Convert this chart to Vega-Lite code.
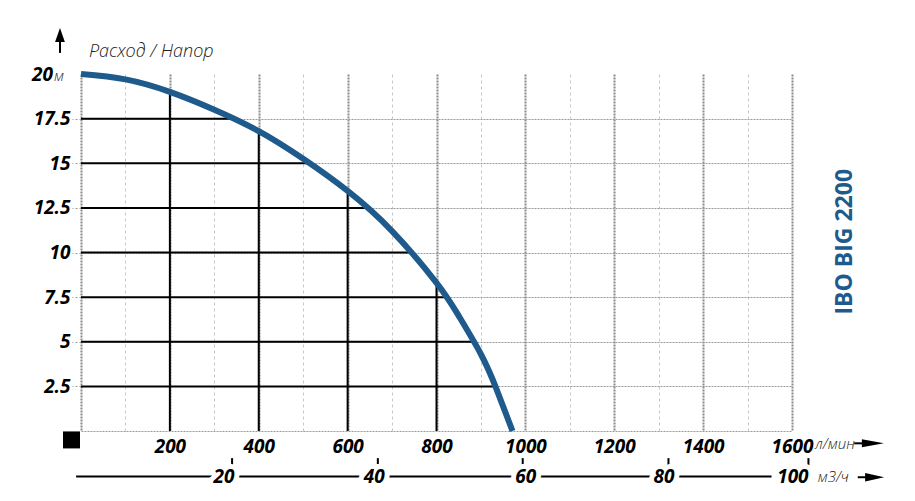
{
  "$schema": "https://vega.github.io/schema/vega-lite/v6.json",
  "width": 711,
  "height": 357,
  "autosize": {"type": "none"},
  "padding": {"left": 81, "top": 74, "right": 123, "bottom": 70},
  "background": "white",
  "config": {"view": {"stroke": null}, "font": "Open Sans"},
  "datasets": {
    "curve": [
      {"flow": 0, "head": 20},
      {"flow": 100, "head": 19.7},
      {"flow": 200, "head": 19.0},
      {"flow": 300, "head": 18.0},
      {"flow": 400, "head": 16.8},
      {"flow": 500, "head": 15.25},
      {"flow": 600, "head": 13.45},
      {"flow": 700, "head": 11.2},
      {"flow": 800, "head": 8.3},
      {"flow": 850, "head": 6.45},
      {"flow": 900, "head": 4.3},
      {"flow": 935, "head": 2.35},
      {"flow": 971, "head": 0}
    ],
    "hlines": [
      {"head": 17.5, "flow": 342},
      {"head": 15, "flow": 514},
      {"head": 12.5, "flow": 640},
      {"head": 10, "flow": 743},
      {"head": 7.5, "flow": 820},
      {"head": 5, "flow": 883},
      {"head": 2.5, "flow": 932}
    ],
    "vlines": [
      {"flow": 200, "head": 19.0},
      {"flow": 400, "head": 16.8},
      {"flow": 600, "head": 13.5},
      {"flow": 800, "head": 8.3}
    ],
    "m3h": [
      {"m3h": 20, "tickAt": 340, "labelAt": 322},
      {"m3h": 40, "tickAt": 668, "labelAt": 660},
      {"m3h": 60, "tickAt": 994, "labelAt": 1001},
      {"m3h": 80, "tickAt": 1322, "labelAt": 1312},
      {"m3h": 100, "tickAt": 1637, "labelAt": 1602}
    ]
  },
  "layer": [
    {
      "data": {"name": "hlines"},
      "mark": {"type": "rule", "color": "#000", "strokeWidth": 2, "clip": false},
      "encoding": {
        "y": {"field": "head", "type": "quantitative", "scale": {"domain": [0, 20], "nice": false, "zero": false}},
        "x": {"field": "flow", "type": "quantitative", "scale": {"domain": [0, 1600], "nice": false, "zero": false}},
        "x2": {"datum": 0}
      }
    },
    {
      "data": {"name": "vlines"},
      "mark": {"type": "rule", "color": "#000", "strokeWidth": 2, "clip": false},
      "encoding": {
        "x": {"field": "flow", "type": "quantitative"},
        "y": {"field": "head", "type": "quantitative"},
        "y2": {"datum": 0}
      }
    },
    {
      "data": {"name": "curve"},
      "mark": {"type": "line", "color": "#1e5b8c", "strokeWidth": 6, "interpolate": "natural", "strokeCap": "butt", "clip": false},
      "encoding": {
        "x": {
          "field": "flow", "type": "quantitative",
          "scale": {"domain": [0, 1600], "nice": false, "zero": false},
          "axis": {
            "values": [0, 100, 200, 300, 400, 500, 600, 700, 800, 900, 1000, 1100, 1200, 1300, 1400, 1500, 1600],
            "format": "d",
            "title": null,
            "domain": false,
            "ticks": false,
            "labelExpr": "datum.value % 200 === 0 && datum.value > 0 ? datum.label : ''",
            "labelPadding": 6,
            "labelFont": "Open Sans",
            "labelFontSize": 19,
            "labelFontWeight": "bold",
            "labelFontStyle": "italic",
            "labelColor": "#000",
            "labelFlush": false,
            "labelOverlap": false,
            "grid": true,
            "gridColor": {"condition": {"test": "datum.value % 200 === 0", "value": "#8a8a8a"}, "value": "#c8c8c8"},
            "gridWidth": {"condition": {"test": "datum.value % 200 === 0", "value": 2}, "value": 1},
            "gridDash": {"condition": {"test": "datum.value % 200 === 0", "value": [2, 1]}, "value": [3, 3]}
          }
        },
        "y": {
          "field": "head", "type": "quantitative",
          "scale": {"domain": [0, 20], "nice": false, "zero": false},
          "axis": {
            "values": [0, 2.5, 5, 7.5, 10, 12.5, 15, 17.5],
            "format": ".1~f",
            "title": null,
            "domain": false,
            "ticks": true,
            "tickSize": 9,
            "tickColor": "#9a9a9a",
            "tickDash": [2, 2],
            "tickWidth": 1.2,
            "tickOpacity": {"condition": {"test": "datum.value === 0", "value": 0}, "value": 1},
            "labelExpr": "datum.value === 0 ? '' : datum.label",
            "labelPadding": 2,
            "labelFont": "Open Sans",
            "labelFontSize": 19,
            "labelFontWeight": "bold",
            "labelFontStyle": "italic",
            "labelColor": "#000",
            "labelFlush": false,
            "labelOverlap": false,
            "grid": true,
            "gridColor": "#9a9a9a",
            "gridDash": [2, 1],
            "gridWidth": 1.2
          }
        }
      }
    },
    {
      "data": {"values": [{}]},
      "mark": {"type": "rule", "color": "#000", "strokeWidth": 2, "clip": false},
      "encoding": {
        "x": {"datum": -11, "type": "quantitative"},
        "x2": {"datum": 1554},
        "y": {"datum": -2.55, "type": "quantitative"}
      }
    },
    {
      "data": {"name": "m3h"},
      "mark": {"type": "rule", "color": "#000", "strokeWidth": 2, "clip": false},
      "encoding": {
        "x": {"field": "tickAt", "type": "quantitative"},
        "y": {"datum": -1.52, "type": "quantitative"},
        "y2": {"datum": -1.94}
      }
    },
    {
      "data": {"name": "m3h"},
      "mark": {"type": "text", "font": "Open Sans", "fontSize": 19, "fontWeight": "bold", "fontStyle": "italic", "color": "white", "stroke": "white", "strokeWidth": 10, "align": "center", "baseline": "middle", "clip": false},
      "encoding": {
        "x": {"field": "labelAt", "type": "quantitative"},
        "y": {"datum": -2.55, "type": "quantitative"},
        "text": {"field": "m3h", "type": "quantitative"}
      }
    },
    {
      "data": {"name": "m3h"},
      "mark": {"type": "text", "font": "Open Sans", "fontSize": 19, "fontWeight": "bold", "fontStyle": "italic", "color": "#000", "align": "center", "baseline": "middle", "clip": false},
      "encoding": {
        "x": {"field": "labelAt", "type": "quantitative"},
        "y": {"datum": -2.55, "type": "quantitative"},
        "text": {"field": "m3h", "type": "quantitative"}
      }
    },
    {
      "data": {"values": [{}]},
      "mark": {"type": "text", "font": "Open Sans", "fontSize": 15, "fontStyle": "italic", "fontWeight": 300, "color": "#222", "align": "left", "baseline": "middle", "clip": false},
      "encoding": {
        "x": {"datum": 1658, "type": "quantitative"},
        "y": {"datum": -2.6, "type": "quantitative"},
        "text": {"value": "м3/ч"}
      }
    },
    {
      "data": {"values": [{}]},
      "mark": {"type": "text", "font": "Open Sans", "fontSize": 15, "fontStyle": "italic", "fontWeight": 300, "color": "#222", "align": "left", "baseline": "middle", "clip": false},
      "encoding": {
        "x": {"datum": 1652, "type": "quantitative"},
        "y": {"datum": -0.75, "type": "quantitative"},
        "text": {"value": "л/мин"}
      }
    },
    {
      "data": {"values": [{}]},
      "mark": {"type": "rule", "color": "#000", "strokeWidth": 2, "clip": false},
      "encoding": {
        "x": {"datum": 1740, "type": "quantitative"},
        "x2": {"datum": 1770},
        "y": {"datum": -0.69, "type": "quantitative"}
      }
    },
    {
      "data": {"values": [{}]},
      "mark": {"type": "point", "shape": "M-1,-0.36L1,0L-1,0.36Z", "size": 484, "filled": true, "color": "#000", "opacity": 1, "clip": false},
      "encoding": {
        "x": {"datum": 1782, "type": "quantitative"},
        "y": {"datum": -0.69, "type": "quantitative"}
      }
    },
    {
      "data": {"values": [{}]},
      "mark": {"type": "rule", "color": "#000", "strokeWidth": 2, "clip": false},
      "encoding": {
        "x": {"datum": 1748, "type": "quantitative"},
        "x2": {"datum": 1776},
        "y": {"datum": -2.59, "type": "quantitative"}
      }
    },
    {
      "data": {"values": [{}]},
      "mark": {"type": "point", "shape": "M-1,-0.44L1,0L-1,0.44Z", "size": 361, "filled": true, "color": "#000", "opacity": 1, "clip": false},
      "encoding": {
        "x": {"datum": 1786, "type": "quantitative"},
        "y": {"datum": -2.59, "type": "quantitative"}
      }
    },
    {
      "data": {"values": [{}]},
      "mark": {"type": "point", "shape": "square", "size": 289, "filled": true, "color": "#000", "opacity": 1, "clip": false},
      "encoding": {
        "x": {"datum": -21.4, "type": "quantitative"},
        "y": {"datum": -0.5, "type": "quantitative"}
      }
    },
    {
      "data": {"values": [{}]},
      "mark": {"type": "point", "shape": "M0,-1L0.7,1L-0.7,1Z", "size": 196, "filled": true, "color": "#000", "opacity": 1, "clip": false},
      "encoding": {
        "x": {"datum": -47.3, "type": "quantitative"},
        "y": {"datum": 22.18, "type": "quantitative"}
      }
    },
    {
      "data": {"values": [{}]},
      "mark": {"type": "rule", "color": "#000", "strokeWidth": 2, "clip": false},
      "encoding": {
        "x": {"datum": -47.3, "type": "quantitative"},
        "y": {"datum": 21.85, "type": "quantitative"},
        "y2": {"datum": 21.18}
      }
    },
    {
      "data": {"values": [{}]},
      "mark": {"type": "text", "font": "Open Sans", "fontSize": 18, "fontStyle": "italic", "fontWeight": 300, "color": "#222", "align": "left", "baseline": "alphabetic", "clip": false},
      "encoding": {
        "x": {"datum": 18, "type": "quantitative"},
        "y": {"datum": 20.95, "type": "quantitative"},
        "text": {"value": "Расход / Напор"}
      }
    },
    {
      "data": {"values": [{}]},
      "mark": {"type": "text", "font": "Open Sans", "fontSize": 19, "fontStyle": "italic", "fontWeight": "bold", "color": "#000", "align": "right", "baseline": "alphabetic", "clip": false},
      "encoding": {
        "x": {"datum": -63, "type": "quantitative"},
        "y": {"datum": 19.61, "type": "quantitative"},
        "text": {"value": "20"}
      }
    },
    {
      "data": {"values": [{}]},
      "mark": {"type": "text", "font": "Open Sans", "fontSize": 15, "fontStyle": "italic", "fontWeight": 300, "color": "#222", "align": "left", "baseline": "alphabetic", "clip": false},
      "encoding": {
        "x": {"datum": -60.8, "type": "quantitative"},
        "y": {"datum": 19.61, "type": "quantitative"},
        "text": {"value": "м"}
      }
    },
    {
      "data": {"values": [{}]},
      "mark": {"type": "text", "font": "Open Sans", "fontSize": 23, "fontWeight": "bold", "color": "#1e5b8c", "align": "center", "baseline": "middle", "angle": 270, "clip": false},
      "encoding": {
        "x": {"datum": 1719, "type": "quantitative"},
        "y": {"datum": 10.6, "type": "quantitative"},
        "text": {"value": "IBO BIG 2200"}
      }
    }
  ]
}
